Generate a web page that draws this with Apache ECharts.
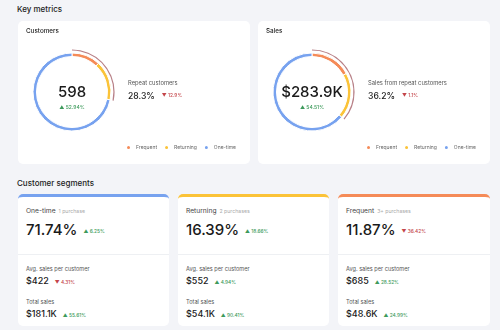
<!DOCTYPE html>
<html>
<head>
<meta charset="utf-8">
<script src="https://cdn.jsdelivr.net/npm/echarts@6/dist/echarts.min.js"></script>
<style>
  html, body { margin: 0; padding: 0; }
  body {
    width: 500px; height: 330px;
    background: #f3f4f8;
    font-family: Inter, "Noto Sans", sans-serif;
    color: #222;
    position: relative;
    overflow: hidden;
  }
  .sectionTitle {
    position: absolute; left: 17px;
    font-size: 8px; font-weight: 500; line-height: 10px;
  }
  .card {
    position: absolute; background: #fff;
    border-radius: 5px; box-sizing: border-box;
  }
  .chartBox { position: absolute; left: 0; top: 0; width: 100%; height: 100%; }
  .seg { top: 194px; height: 132px; border-top: 3px solid; }
  .row { position: absolute; left: 8px; white-space: nowrap; }
  .name { font-size: 6.7px; line-height: 10px; color: #444; font-weight: 400; }
  .hint { font-size: 5.2px; color: #aaa; margin-left: 3px; }
  .big { font-size: 15px; line-height: 18px; font-weight: 500; color: #1a1a1a; }
  .label { font-size: 5.6px; line-height: 8px; color: #555; }
  .mid { font-size: 9px; line-height: 12px; font-weight: 500; color: #1a1a1a; }
  .chg { font-size: 4.8px; font-weight: 500; margin-left: 6px; vertical-align: middle; }
  .up { color: #3d9a5b; }
  .down { color: #c4454a; }
  .divider { position: absolute; left: 0; right: 0; top: 57px; height: 1px; background: #eef0f3; }
</style>
</head>
<body>
<div class="sectionTitle" style="top:4px">Key metrics</div>
<div class="card" style="left:18px;top:21px;width:232px;height:143px"><div class="chartBox" id="chartCustomers"></div></div>
<div class="card" style="left:258px;top:21px;width:232px;height:143px"><div class="chartBox" id="chartSales"></div></div>
<div class="sectionTitle" style="top:178px">Customer segments</div>
<div id="segments"></div>
<script>
// segment order as stacked in the donuts (clockwise from top)
const segments = ["Frequent", "Returning", "One-time"];
const purchases = ["3+ purchases", "2 purchases", "1 purchase"];
const customerShare = [11.87, 16.39, 71.74];
const customerShareChange = [-36.42, 18.66, 6.25];
const avgSales = [685, 552, 422];
const avgSalesChange = [28.52, 4.94, -4.31];
const totalSalesK = [48.6, 54.1, 181.1];
const totalSalesChange = [24.99, 90.41, 55.61];

const totalCustomers = 598;
const totalCustomersChange = 52.94;
const totalSalesAllK = 283.9;
const totalSalesAllChange = 54.51;
const repeatCustomerPct = 28.3;
const repeatCustomerChange = -12.9;
const repeatSalesPct = 36.2;
const repeatSalesChange = -1.1;

const segColors = ["#f58b58", "#fbc338", "#77a2ef"];
const arcColor = "#b88087";
const upColor = "#3d9a5b";
const downColor = "#c4454a";

function fmtChange(v) {
  return (v >= 0 ? "▲ " : "▼ ") + Math.abs(v) + "%";
}

function donutOption(title, values, centerText, centerChange, repeatLabel, repeatPct, repeatChange) {
  const center = [54, 71];
  return {
    animation: false,
    title: {
      text: title, left: 8, top: 7, padding: 0,
      textStyle: { fontSize: 6.3, fontWeight: 500, color: "#222", fontFamily: "Inter" }
    },
    legend: {
      data: segments, right: 14, top: 123, padding: 0,
      icon: "circle", itemWidth: 5, itemHeight: 5, itemGap: 6,
      selectedMode: false,
      textStyle: { fontSize: 5, color: "#666", fontFamily: "Inter" }
    },
    series: [
      {
        type: "pie", radius: [35.5, 39], center: center, startAngle: 90,
        silent: true, label: { show: false },
        itemStyle: { borderColor: "#fff", borderWidth: 1 },
        data: segments.map((s, i) => ({ name: s, value: values[i], itemStyle: { color: segColors[i] } }))
      },
      {
        type: "pie", radius: [41.4, 42.6], center: center, startAngle: 90,
        silent: true, label: { show: false },
        data: [
          { name: "repeat", value: repeatPct, itemStyle: { color: arcColor } },
          { name: "rest", value: 100 - repeatPct, itemStyle: { color: "transparent" } }
        ]
      }
    ],
    graphic: [
      {
        type: "text", x: center[0], y: center[1],
        style: { text: centerText, fontSize: 15, fontWeight: 500, fontFamily: "Inter",
          fill: "#1a1a1a", align: "center", verticalAlign: "middle" }
      },
      {
        type: "text", x: center[0], y: center[1] + 15,
        style: { text: fmtChange(centerChange), fontSize: 5, fontWeight: 500, fontFamily: "Inter",
          fill: centerChange >= 0 ? upColor : downColor, align: "center", verticalAlign: "middle" }
      },
      {
        type: "text", x: 110, y: 62,
        style: { text: repeatLabel, fontSize: 5.8, fontFamily: "Inter", fill: "#555", verticalAlign: "middle" }
      },
      {
        type: "text", x: 110, y: 75,
        style: {
          text: "{v|" + repeatPct + "%}{c|" + fmtChange(repeatChange) + "}",
          verticalAlign: "middle",
          rich: {
            v: { fontSize: 8.6, fontWeight: 500, fontFamily: "Inter", fill: "#1a1a1a", verticalAlign: "middle" },
            c: { fontSize: 4.8, fontWeight: 500, fontFamily: "Inter", verticalAlign: "middle",
              fill: repeatChange >= 0 ? upColor : downColor, padding: [0, 0, 0, 7] }
          }
        }
      }
    ]
  };
}

const custChart = echarts.init(document.getElementById("chartCustomers"));
custChart.setOption(donutOption("Customers", customerShare, String(totalCustomers),
  totalCustomersChange, "Repeat customers", repeatCustomerPct, repeatCustomerChange));

const salesChart = echarts.init(document.getElementById("chartSales"));
salesChart.setOption(donutOption("Sales", totalSalesK, "$" + totalSalesAllK + "K",
  totalSalesAllChange, "Sales from repeat customers", repeatSalesPct, repeatSalesChange));

// segment cards, left to right: One-time, Returning, Frequent
const cardLefts = [18, 178, 338];
const cardWidths = [151, 151, 152];
const chgSpan = v => '<span class="chg ' + (v >= 0 ? "up" : "down") + '">' + fmtChange(v) + "</span>";
let html = "";
[2, 1, 0].forEach((si, k) => {
  html += '<div class="card seg" style="left:' + cardLefts[k] + "px;width:" + cardWidths[k] +
    "px;border-top-color:" + segColors[si] + '">' +
    '<div class="row name" style="top:9px">' + segments[si] + '<span class="hint">' + purchases[si] + "</span></div>" +
    '<div class="row big" style="top:24px">' + customerShare[si] + "%" + chgSpan(customerShareChange[si]) + "</div>" +
    '<div class="divider"></div>' +
    '<div class="row label" style="top:68px">Avg. sales per customer</div>' +
    '<div class="row mid" style="top:78px">$' + avgSales[si] + chgSpan(avgSalesChange[si]) + "</div>" +
    '<div class="row label" style="top:101px">Total sales</div>' +
    '<div class="row mid" style="top:111px">$' + totalSalesK[si] + "K" + chgSpan(totalSalesChange[si]) + "</div>" +
    "</div>";
});
document.getElementById("segments").innerHTML = html;
</script>
</body>
</html>
